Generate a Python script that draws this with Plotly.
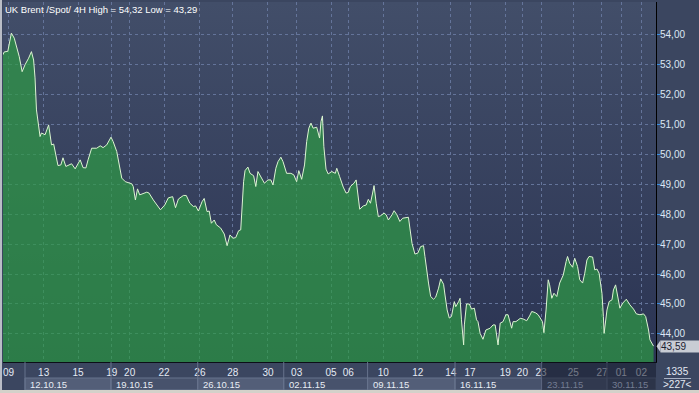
import base64
import plotly.graph_objects as go

# ---------------- data ----------------
# time axis: trading hours since the 09.10.15 session start (weekends removed)
t_hours = [
    -7, -5, 0, 2, 5, 9, 12, 16, 20, 24, 29, 33, 36, 38, 40, 43, 45, 47, 52, 57,
    59, 61, 64, 67, 70, 74, 77, 81, 87, 89, 94, 101, 105, 109, 112, 117, 124, 129, 133, 138,
    144, 147, 152, 156, 159, 164, 173, 175, 178, 181, 184, 194, 197, 203, 208, 213, 219, 224,
    230, 234, 238, 245, 249, 254, 259, 262, 266, 271, 274, 278, 281, 284, 288, 291, 297, 302,
    306, 310, 314, 318, 322, 325, 329, 331, 335, 338, 343, 346, 349, 354, 358, 363, 367, 370,
    374, 377, 381, 384, 389, 395, 399, 403, 406, 410, 414, 417, 420, 423, 426, 431, 435, 437,
    439, 441, 444, 447, 452, 457,
    459, 463, 468, 472, 475, 478, 483, 486, 489, 491, 496, 500, 503, 506, 509, 511, 514, 517,
    520, 525, 528, 531, 536, 539, 543, 547, 551, 559, 561, 564, 568, 572, 576, 580, 582, 584,
    587, 590, 594, 597, 601, 604, 608, 610, 613, 616, 619, 623, 625, 629, 631, 633, 636, 637,
    640, 644, 647, 651, 654, 656, 659, 663, 667, 673, 677, 680, 682, 684, 687, 691, 695, 698,
    703, 705, 709, 715, 719, 724, 728, 731, 736, 740, 746, 748, 751, 754, 756, 759, 762, 766,
    770, 775, 779, 781, 784, 788, 791, 795, 798, 802, 805, 808, 811, 816, 819, 822, 825, 829,
    831, 832, 836, 839, 843, 845, 848, 851, 854, 858, 863, 868, 873, 877, 882, 887, 890, 894,
    896, 901,
]
close = [
    53.33, 53.43, 53.45, 53.72, 54.06, 53.89, 53.61, 53.27, 52.77, 53.00, 53.22, 53.44, 53.16, 52.56, 51.49, 50.82, 50.60, 50.72, 50.66, 50.99,
    50.72, 50.32, 50.35, 49.93, 49.63, 49.65, 49.89, 49.60, 49.65, 49.69, 49.52, 49.82, 49.56, 49.55, 49.82, 50.21, 50.21, 50.29, 50.23, 50.32,
    50.58, 50.43, 50.10, 49.60, 49.21, 49.09, 49.02, 48.93, 48.48, 48.85, 48.65, 48.74, 48.71, 48.48, 48.31, 48.15, 48.31, 48.55,
    48.59, 48.22, 48.51, 48.63, 48.63, 48.37, 48.26, 48.28, 48.11, 48.42, 48.53, 48.09, 48.11, 47.70, 47.81, 47.65, 47.54, 47.34,
    46.95, 47.31, 47.20, 47.22, 47.45, 47.48, 49.09, 49.46, 49.58, 49.37, 49.29, 48.93, 49.43, 49.21, 49.04, 49.15, 49.15, 48.98,
    49.54, 49.76, 49.91, 49.76, 49.37, 49.37, 49.32, 49.09, 49.46, 49.17, 49.65, 50.43, 50.88, 51.05, 50.88, 50.91, 50.55, 51.10,
    51.29, 50.26, 49.51, 49.35, 49.43, 49.37,
    49.54, 49.26, 48.91, 48.71, 48.73, 48.93, 49.04, 49.15, 48.48, 48.17, 48.28, 48.31, 48.50, 48.37, 48.71, 48.96, 48.37, 47.92,
    47.95, 48.04, 47.98, 47.81, 47.98, 48.12, 47.98, 47.76, 47.87, 47.90, 47.54, 47.03, 46.67, 46.70, 46.92, 46.95, 46.59, 46.20,
    45.70, 45.25, 45.16, 45.23, 45.53, 45.84, 45.66, 45.30, 44.80, 44.53, 44.58, 45.08, 44.91, 45.08, 45.19, 44.47, 43.63, 44.30,
    45.00, 45.00, 44.83, 44.86, 44.47, 44.41, 44.02, 43.82, 44.13, 44.19, 44.30, 44.30, 44.02, 43.63, 44.36, 44.41, 44.64, 44.64,
    44.19, 44.41, 44.41, 44.52, 44.50, 44.44, 44.60, 44.75, 44.71, 44.64, 44.41, 44.04, 44.80, 45.81, 45.64, 45.19, 45.36, 45.25,
    45.70, 45.97, 46.42, 46.59, 46.36, 46.23, 46.53, 46.25, 45.81, 45.70, 46.03, 46.47, 46.59, 46.57, 46.14, 46.17, 46.03, 45.36,
    44.58, 44.02, 44.80, 45.08, 45.14, 45.47, 45.64, 45.30, 44.86, 45.03, 45.16, 44.97, 44.83, 44.67, 44.64, 44.67, 44.58, 44.13,
    43.80, 43.59,
]
assert len(t_hours) == len(close)

day_tick_hours = [1, 50, 98, 145, 170, 218, 268, 314, 363, 403, 451, 475, 524, 572, 618, 645,
                  694, 718, 744, 789, 829, 856, 884]
day_tick_labels = ["09", "13", "15", "19", "20", "22", "26", "28", "30", "03", "05", "06", "10",
                   "12", "14", "17", "19", "20", "23", "25", "27", "01", "02"]
week_start_hours = [24, 144, 265, 385, 502, 624, 745, 836]
week_labels = ["12.10.15", "19.10.15", "26.10.15", "02.11.15", "09.11.15", "16.11.15",
               "23.11.15", "30.11.15"]
y_ticks = [44, 45, 46, 47, 48, 49, 50, 51, 52, 53, 54]
title_text = "UK Brent /Spot/ 4H High = 54,32 Low = 43,29"
bar_total = "1335"
bar_visible = ">227<"
dim_from_week = 6  # weeks from this index are shown dimmed

# ---------------- layout geometry ----------------
W, H = 699, 393
ML, MR, MT, MB = 3, 43, 2, 31
PW = W - ML - MR
PH = H - MT - MB
X_RANGE = [-6.7, 904.4]
Y_RANGE = [43.06, 55.10]


def pxx(px):
    return (px - ML) / PW


def pxy(py):
    return (MT + PH - py) / PH


FONT = "Liberation Sans, Arial, sans-serif"
PAPER = "#3b4660"

svg = ('<svg xmlns="http://www.w3.org/2000/svg" width="10" height="100" preserveAspectRatio="none">'
       '<defs><linearGradient id="g" x1="0" y1="0" x2="0" y2="1">'
       '<stop offset="0" stop-color="#424e69"/><stop offset="1" stop-color="#2b3453"/>'
       '</linearGradient></defs><rect width="10" height="100" fill="url(#g)"/></svg>')
bg_uri = "data:image/svg+xml;base64," + base64.b64encode(svg.encode()).decode()

fig = go.Figure()
fig.add_trace(go.Scatter(
    x=t_hours, y=close, mode="lines",
    line=dict(color="#dcf5d2", width=1),
    fill="tozeroy", fillcolor="rgba(46,155,69,0.70)",
    hoverinfo="skip", showlegend=False,
))

shapes = []
annotations = []

# week boxes in the lower axis row
for i, start in enumerate(week_start_hours):
    end = week_start_hours[i + 1] if i + 1 < len(week_start_hours) else X_RANGE[1]
    shapes.append(dict(type="rect", xref="x", yref="paper", x0=start, x1=end,
                       y0=pxy(390), y1=pxy(378), layer="below",
                       fillcolor="#535e78" if i % 2 == 0 else "#47526c",
                       line=dict(color="#67728c", width=1)))
    shapes.append(dict(type="line", xref="x", yref="paper", x0=start, x1=start,
                       y0=pxy(390), y1=pxy(362), line=dict(color="#67728c", width=1)))
    annotations.append(dict(text=week_labels[i], xref="x", yref="paper", x=start,
                            y=pxy(384), xanchor="left", yanchor="middle", xshift=3,
                            showarrow=False,
                            font=dict(family=FONT, size=9.5,
                                      color="#737c92" if i >= dim_from_week else "#e8edf5")))

# dimmed tail of the axis
shapes.append(dict(type="rect", xref="x", yref="paper", x0=week_start_hours[dim_from_week],
                   x1=X_RANGE[1], y0=pxy(390), y1=pxy(363), layer="above",
                   fillcolor="rgba(22,27,45,0.55)", line=dict(width=0)))

# frame strips
shapes.append(dict(type="rect", xref="paper", yref="paper", x0=pxx(0), x1=pxx(2),
                   y0=pxy(H), y1=pxy(0), fillcolor="#b9bdc6", line=dict(width=0)))
shapes.append(dict(type="rect", xref="paper", yref="paper", x0=pxx(0), x1=pxx(W),
                   y0=pxy(H), y1=pxy(390), fillcolor="#d4d1ca", line=dict(width=0)))

# bottom-right counter
shapes.append(dict(type="line", xref="paper", yref="paper", x0=pxx(664), x1=pxx(691),
                   y0=pxy(378.5), y1=pxy(378.5), line=dict(color="#a7b0c2", width=1)))
annotations.append(dict(text=bar_total, xref="paper", yref="paper", x=pxx(677.5), y=pxy(371.5),
                        xanchor="center", yanchor="middle", showarrow=False,
                        font=dict(family=FONT, size=10, color="#e4eaf4")))
annotations.append(dict(text=bar_visible, xref="paper", yref="paper", x=pxx(677.5), y=pxy(384.5),
                        xanchor="center", yanchor="middle", showarrow=False,
                        font=dict(family=FONT, size=10, color="#e4eaf4")))

# last price marker
last = close[-1]
half = 6 / (PH / (Y_RANGE[1] - Y_RANGE[0]))
shapes.append(dict(type="path", xref="paper", yref="y",
                   path=f"M {pxx(656.5)},{last} L {pxx(660.5)},{last + half} L {pxx(660.5)},{last - half} Z",
                   fillcolor="#c8ccd4", line=dict(width=0)))
annotations.append(dict(text=f"{last:.2f}".replace(".", ","), xref="paper", yref="y",
                        x=pxx(660), y=last, xanchor="left", yanchor="middle",
                        showarrow=False, bgcolor="#c8ccd4", borderpad=0, width=39, height=11,
                        align="left", font=dict(family=FONT, size=10, color="#1b2030")))

# title
annotations.append(dict(text=title_text, xref="paper", yref="paper", x=0, y=1,
                        xanchor="left", yanchor="top", xshift=0, yshift=0, showarrow=False,
                        font=dict(family=FONT, size=9.5, color="#ffffff")))

fig.update_layout(
    width=W, height=H, autosize=False,
    margin=dict(l=ML, r=MR, t=MT, b=MB, pad=0),
    paper_bgcolor=PAPER, plot_bgcolor="#363f5c",
    separators=", ",
    showlegend=False,
    images=[dict(source=bg_uri, xref="paper", yref="paper", x=0, y=1, sizex=1, sizey=1,
                 xanchor="left", yanchor="top", sizing="stretch", layer="below")],
    xaxis=dict(range=X_RANGE, tickmode="array", tickvals=day_tick_hours, ticktext=day_tick_labels,
               showgrid=True, gridcolor="#64749a", griddash="3px,3px", gridwidth=1,
               zeroline=False, showline=True, linecolor="#0b0e16", linewidth=1,
               ticks="", tickfont=dict(family=FONT, size=10, color="#e4eaf4"),
               ticklabelstandoff=1,
               automargin=False, fixedrange=True),
    yaxis=dict(range=Y_RANGE, side="right", tickmode="array", tickvals=y_ticks, tickformat=".2f",
               showgrid=True, gridcolor="#64749a", griddash="3px,3px", gridwidth=1,
               zeroline=False, showline=True, linecolor="#000000", linewidth=1,
               ticks="outside", ticklen=3, tickcolor="#3d8fe0",
               ticklabelstandoff=-2,
               tickfont=dict(family=FONT, size=10, color="#dce6f4"),
               automargin=False, fixedrange=True),
    shapes=shapes,
    annotations=annotations,
)

fig.write_html("out.html")
